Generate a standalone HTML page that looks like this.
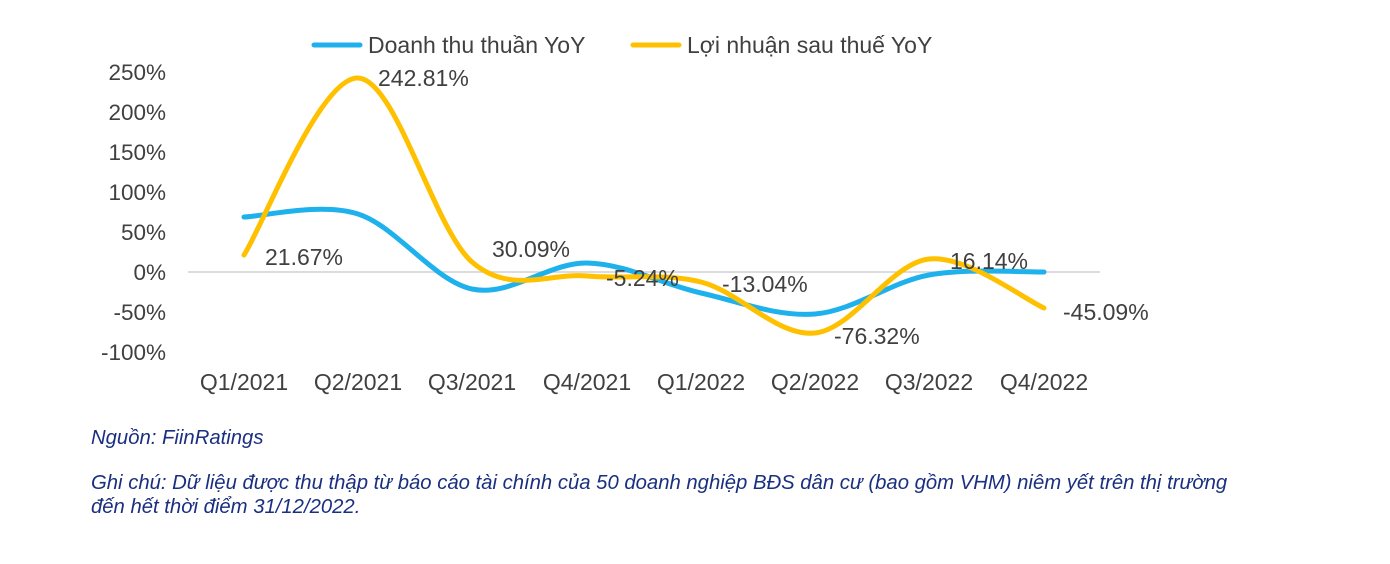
<!DOCTYPE html>
<html><head><meta charset="utf-8"><style>
body{margin:0;background:#fff;width:1390px;height:564px;overflow:hidden}
svg text{font-family:"Liberation Sans",sans-serif}
.n{position:absolute;left:91px;font-family:"Liberation Sans",sans-serif;font-style:italic;font-size:20.3px;color:#1a2f80;line-height:24px}
</style></head><body>
<svg width="1390" height="564" style="position:absolute;left:0;top:0">
<line x1="188" y1="272" x2="1100" y2="272" stroke="#d0d0d0" stroke-width="1.5"/>
<g font-size="22.5" fill="#404040" text-anchor="end">
<text x="166" y="80">250%</text><text x="166" y="120">200%</text><text x="166" y="160">150%</text>
<text x="166" y="200">100%</text><text x="166" y="240">50%</text><text x="166" y="280">0%</text>
<text x="166" y="320">-50%</text><text x="166" y="360">-100%</text>
</g>
<g font-size="23" fill="#404040" text-anchor="middle">
<text x="244" y="390">Q1/2021</text><text x="358" y="390">Q2/2021</text><text x="472" y="390">Q3/2021</text>
<text x="587" y="390">Q4/2021</text><text x="701" y="390">Q1/2022</text><text x="815" y="390">Q2/2022</text>
<text x="929" y="390">Q3/2022</text><text x="1044" y="390">Q4/2022</text>
</g>
<path id="b" fill="none" stroke="#1eb1ec" stroke-width="5" stroke-linecap="round"/>
<path id="y" fill="none" stroke="#ffc000" stroke-width="5" stroke-linecap="round"/>
<g font-size="23" fill="#404040">
<text x="378" y="86">242.81%</text><text x="265" y="265">21.67%</text><text x="492" y="257">30.09%</text>
<text x="606" y="286">-5.24%</text><text x="722" y="292">-13.04%</text><text x="834" y="344">-76.32%</text>
<text x="950" y="269">16.14%</text><text x="1063" y="320">-45.09%</text>
</g>
<line x1="314" y1="45" x2="360" y2="45" stroke="#1eb1ec" stroke-width="5" stroke-linecap="round"/>
<text x="368" y="53" font-size="23" fill="#404040">Doanh thu thuần YoY</text>
<line x1="633" y1="45" x2="679" y2="45" stroke="#ffc000" stroke-width="5" stroke-linecap="round"/>
<text x="687" y="53" font-size="23" fill="#404040">Lợi nhuận sau thuế YoY</text>
</svg>
<div class="n" style="top:426px">Nguồn: FiinRatings</div>
<div class="n" style="top:471px">Ghi chú: Dữ liệu được thu thập từ báo cáo tài chính của 50 doanh nghiệp BĐS dân cư (bao gồm VHM) niêm yết trên thị trường<br>đến hết thời điểm 31/12/2022.</div>
<script>
var xs=[244,358,472,587,701,815,929,1044];
function path(ys){var p=xs.map((x,i)=>[x,ys[i]]);var d="M"+p[0][0]+","+p[0][1];
for(var i=0;i<p.length-1;i++){var p0=p[i-1]||p[i],p1=p[i],p2=p[i+1],p3=p[i+2]||p2;var t=6;
d+=" C"+(p1[0]+(p2[0]-p0[0])/t)+","+(p1[1]+(p2[1]-p0[1])/t)+" "+(p2[0]-(p3[0]-p1[0])/t)+","+(p2[1]-(p3[1]-p1[1])/t)+" "+p2[0]+","+p2[1];}return d;}
document.getElementById('b').setAttribute('d',path([217,214,289,263,293,314,275,272]));
document.getElementById('y').setAttribute('d',path([255,78,262,276,282,333,259,308]));
</script>
</body></html>
